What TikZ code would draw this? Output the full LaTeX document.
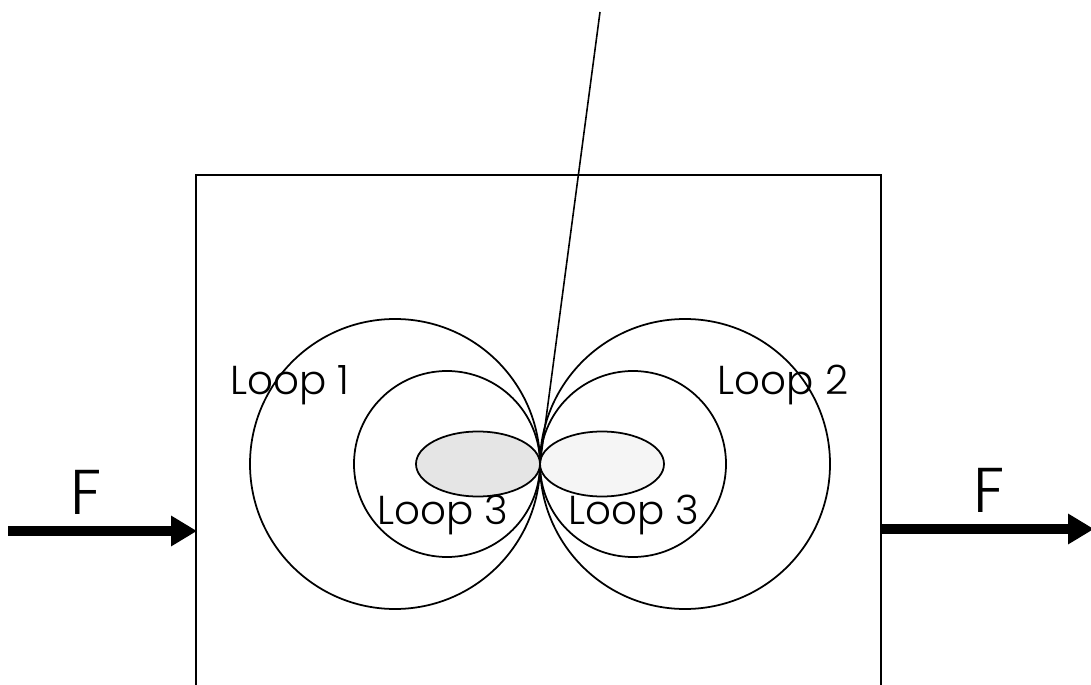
\documentclass[tikz,border=0pt]{standalone}
\usepackage{fontspec}
\setmainfont{Poppins}[UprightFont=* Light]
\usepackage{tikz}
\usetikzlibrary{arrows.meta}
\tikzset{
  loopline/.style={draw=black, line width=1pt},
  looplbl/.style={font=\fontsize{23}{25}\selectfont, inner sep=0pt},
  forcelbl/.style={font=\fontsize{36}{38}\selectfont, inner sep=0pt},
  farr/.style={-{Triangle[length=0.52cm, width=0.58cm]}, line width=0.2cm}
}
\begin{document}
\begin{tikzpicture}[x=0.02cm, y=-0.02cm]
\useasboundingbox (0,0) rectangle (1091,685);
% specimen outline, open at the bottom
\coordinate (bl) at (196,700);
\coordinate (tl) at (196,175);
\coordinate (tr) at (881,175);
\coordinate (br) at (881,700);
\draw[line width=0.8pt] (bl) -- (tl) -- (tr) -- (br);
% loops
\coordinate (pinch) at (540,464);
\coordinate (top) at (600,12);
\draw[loopline] (395,464) circle (145);
\draw[loopline] (447,464) circle (93);
\draw[loopline] (685,464) circle (145);
\draw[loopline] (633,464) circle (93);
\draw[loopline, fill=black!10] (478,464) ellipse (62 and 32.5);
\draw[loopline, fill=black!4] (602,464) ellipse (62 and 32.5);
\draw[line width=0.9pt] (pinch) -- (top);
% labels
\node[looplbl] (l1) at (290,385) {Loop 1};
\node[looplbl] (l2) at (783,385) {Loop 2};
\node[looplbl] (l3a) at (443,515) {Loop 3};
\node[looplbl] (l3b) at (634,515) {Loop 3};
% applied forces
\node[forcelbl] (fl) at (86,492) {F};
\node[forcelbl] (fr) at (989,490) {F};
\coordinate (inl) at (8,531);
\coordinate (inr) at (197,531);
\coordinate (outl) at (881,529);
\coordinate (outr) at (1094,529);
\draw[farr] (inl) -- (inr);
\draw[farr] (outl) -- (outr);
\end{tikzpicture}
\end{document}
